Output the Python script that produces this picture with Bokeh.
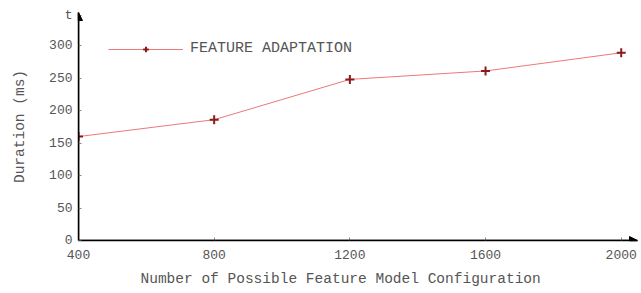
from bokeh.plotting import figure
from bokeh.models import Range1d, FixedTicker, Arrow, NormalHead, Legend, LegendItem, Title
from bokeh.embed import file_html
from bokeh.resources import INLINE

configs = [400, 800, 1200, 1600, 2000]
durations = [160, 186, 248, 261, 289]
x_ticks = [400, 800, 1200, 1600, 2000]
y_ticks = [0, 50, 100, 150, 200, 250, 300]
y_axis_symbol = "t"
series_name = "FEATURE ADAPTATION"
x_title = "Number of Possible Feature Model Configuration"
y_title = "Duration (ms)"

FONT = "Liberation Mono"
TXT = "#555555"
Y_END = 351

p = figure(width=640, height=293, output_backend="svg", toolbar_location=None,
           x_range=Range1d(400, 2048), y_range=Range1d(0, Y_END),
           min_border_left=78, min_border_right=3, min_border_top=12, min_border_bottom=53)
p.outline_line_color = None
p.xgrid.visible = False
p.ygrid.visible = False
p.background_fill_color = "white"

for ax in (p.xaxis[0], p.yaxis[0]):
    ax.axis_line_color = "black"
    ax.axis_line_width = 1.5
    ax.major_tick_in = 3
    ax.major_tick_out = 0
    ax.major_tick_line_color = "#888888"
    ax.minor_tick_line_color = None
    ax.major_label_text_font = FONT
    ax.major_label_text_font_size = "13px"
    ax.major_label_text_color = TXT
    ax.axis_label_text_font = FONT
    ax.axis_label_text_font_size = "14.5px"
    ax.axis_label_text_font_style = "normal"
    ax.axis_label_text_color = TXT

top_tick = Y_END - 4
p.xaxis.ticker = FixedTicker(ticks=x_ticks)
p.yaxis.ticker = FixedTicker(ticks=y_ticks + [top_tick])
p.yaxis.major_label_overrides = {top_tick: y_axis_symbol}
p.yaxis.axis_label = y_title
p.xaxis.major_label_standoff = 9
p.yaxis.major_label_standoff = 6
p.yaxis.axis_label_standoff = 18

p.add_layout(Title(text=x_title, align="left", offset=62, text_font=FONT, text_font_size="14.5px",
                   text_font_style="normal", text_color=TXT, standoff=14), "below")

# axis arrows
p.add_layout(Arrow(x_start=400, y_start=0, x_end=2048, y_end=0, line_color="black", line_width=1.5,
                   end=NormalHead(size=8, fill_color="black", line_color="black")))
p.add_layout(Arrow(x_start=400, y_start=0, x_end=400, y_end=Y_END, line_color="black", line_width=1.5,
                   end=NormalHead(size=8, fill_color="black", line_color="black")))

ln = p.line(configs, durations, line_color="#ee7777", line_width=1)
sc = p.scatter(configs, durations, marker="cross", size=9, line_color="#8b1a1a", line_width=2)

legend = Legend(items=[LegendItem(label=series_name, renderers=[ln, sc])],
                location=(30, 183), padding=0, margin=0, glyph_width=75, glyph_height=14,
                label_height=14, label_standoff=7, border_line_color=None,
                background_fill_alpha=0, label_text_font=FONT, label_text_font_size="15px",
                label_text_color=TXT)
p.add_layout(legend, "center")

open("out.html", "w").write(file_html(p, INLINE))
